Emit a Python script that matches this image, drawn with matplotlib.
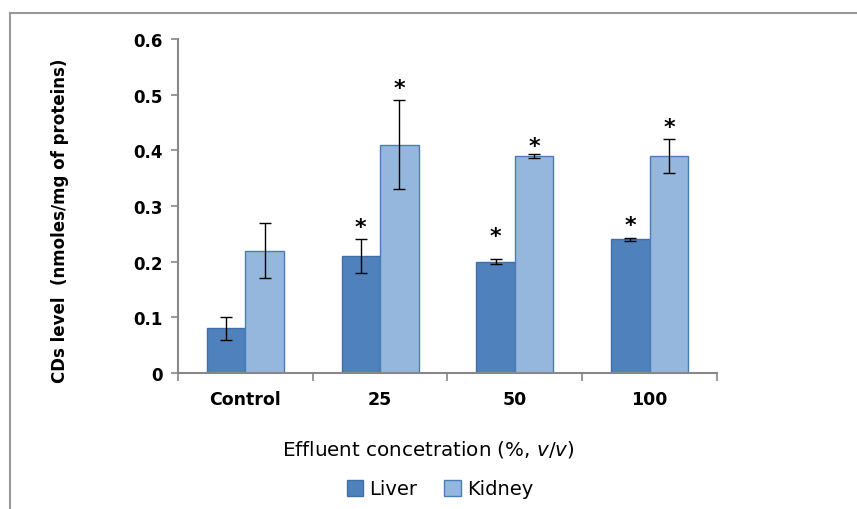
import matplotlib
matplotlib.use("Agg")
import matplotlib.pyplot as plt
import numpy as np
from matplotlib.lines import Line2D
from matplotlib.patches import Patch

categories = ["Control", "25", "50", "100"]
liver = [0.08, 0.21, 0.20, 0.24]
liver_err = [0.02, 0.03, 0.005, 0.003]
kidney = [0.22, 0.41, 0.39, 0.39]
kidney_err = [0.05, 0.08, 0.004, 0.03]
liver_sig = [False, True, True, True]
kidney_sig = [False, True, True, True]
liver_star_y = [None, 0.262, 0.246, 0.265]
kidney_star_y = [None, 0.512, 0.408, 0.442]
yticks = [0, 0.1, 0.2, 0.3, 0.4, 0.5, 0.6]

plt.rcParams['font.family'] = ['DejaVu Sans']
plt.rcParams['mathtext.fontset'] = 'custom'
plt.rcParams['mathtext.it'] = 'DejaVu Sans:italic'
plt.rcParams['mathtext.rm'] = 'DejaVu Sans'

fig = plt.figure(figsize=(8.57, 5.10), dpi=100)
ax = fig.add_axes([178/857, 1-374/510, (717-178)/857, (374-40)/510])

x = np.arange(len(categories))
w = 0.286
c_liver = "#4F81BD"
c_kidney = "#95B7DE"
ax.bar(x - w/2, liver, w, color=c_liver, edgecolor="#3F6FA6", linewidth=1, zorder=2)
ax.bar(x + w/2, kidney, w, color=c_kidney, edgecolor="#4A7CB5", linewidth=1, zorder=2)
ax.errorbar(x - w/2, liver, yerr=liver_err, fmt='none', ecolor='black', elinewidth=1,
            capsize=4.5, capthick=1, zorder=3)
ax.errorbar(x + w/2, kidney, yerr=kidney_err, fmt='none', ecolor='black', elinewidth=1,
            capsize=4.5, capthick=1, zorder=3)
for i in range(len(categories)):
    if liver_sig[i]:
        ax.text(x[i] - w/2, liver_star_y[i], "*", ha='center', va='center',
                fontsize=16, fontweight='bold')
    if kidney_sig[i]:
        ax.text(x[i] + w/2, kidney_star_y[i], "*", ha='center', va='center',
                fontsize=16, fontweight='bold')

ax.set_xlim(-0.5, len(categories) - 0.5)
ax.set_ylim(0, 0.6)
ax.set_yticks(yticks)
ax.set_yticklabels([("%g" % t) for t in yticks], fontsize=12, fontweight='bold')
ax.set_xticks(np.arange(len(categories) + 1) - 0.5)
ax.set_xticklabels([])
ax.set_xticks(x, minor=True)
ax.set_xticklabels(categories, minor=True, fontsize=12.5, fontweight='bold')
ax.tick_params(axis='x', which='minor', length=0, pad=12)
ax.tick_params(axis='x', which='major', length=6, color='#888888', width=1.2)
ax.tick_params(axis='y', length=5, color='#888888', width=1.2, pad=6)

for s in ['top', 'right']:
    ax.spines[s].set_visible(False)
for s in ['left', 'bottom']:
    ax.spines[s].set_color('#888888')
    ax.spines[s].set_linewidth(1.5)

fig.text(60/857, 1-221/510, "CDs level  (nmoles/mg of proteins)", rotation=90,
         ha='center', va='center', fontsize=12, fontweight='bold')
fig.text(428/857, 1-450/510, r"Effluent concetration (%, $v/v$)", ha='center', va='center',
         fontsize=14.3)

handles = [Patch(facecolor=c_liver, edgecolor="#3F6FA6"), Patch(facecolor=c_kidney, edgecolor="#4A7CB5")]
fig.legend(handles, ["Liver", "Kidney"], loc='center', bbox_to_anchor=(440/857, 1-490/510),
           ncol=2, frameon=False, fontsize=14, handlelength=0.85, handleheight=0.85,
           handletextpad=0.3, columnspacing=1.4)

fig.add_artist(Line2D([10/857, 1], [1-13.5/510]*2, color='#999999', lw=1.5))
fig.add_artist(Line2D([10/857]*2, [0, 1-13.5/510], color='#999999', lw=1.5))

fig.savefig("out.png", dpi=100)
